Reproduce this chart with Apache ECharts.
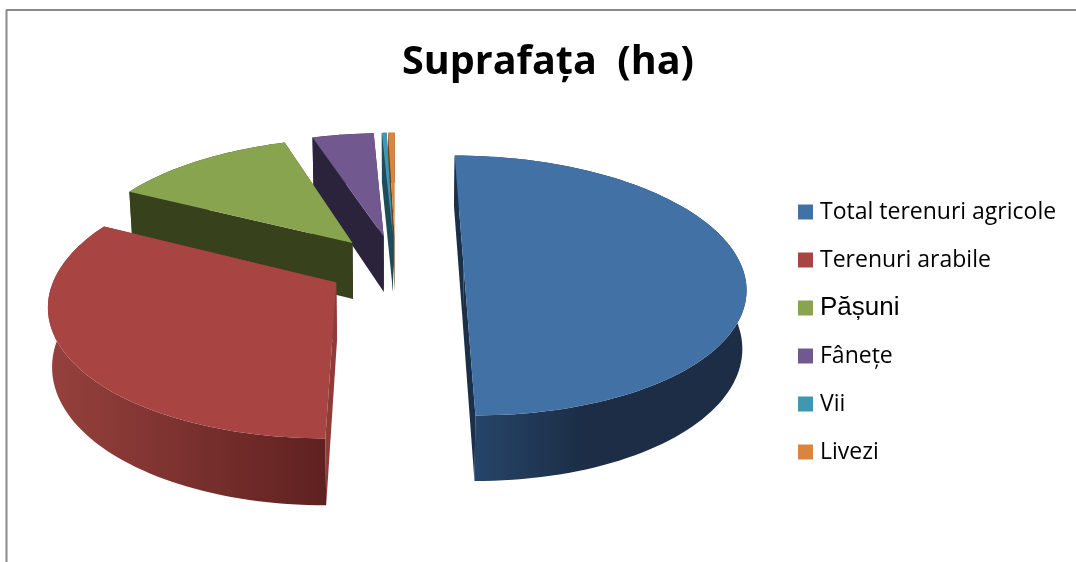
<!DOCTYPE html>
<html>
<head>
<meta charset="utf-8">
<title>Suprafața (ha)</title>
<script src="https://cdn.jsdelivr.net/npm/echarts@6/dist/echarts.min.js"></script>
<style>
  html, body { margin: 0; padding: 0; background: #fff; }
  #chart { width: 1076px; height: 562px; }
</style>
</head>
<body>
<div id="chart"></div>
<script>
// values (ha)
const categories = ['Total terenuri agricole', 'Terenuri arabile', 'Pășuni', 'Fânețe', 'Vii', 'Livezi']
const surface = [5000, 3250, 1250, 420, 33, 45]

const topColors = ['#4271a6', '#a84442', '#88a44f', '#71588f', '#3f97b0', '#db843d']
const faceColors = ['#1b2f49', '#8f3b38', '#37421d', '#2b233c', '#1d4d5a', '#6e4118']
// rim shading, left to right
const rimStops = [
  [['#27496f', 0], ['#1c2d45', 0.45], ['#1c2d45', 1]],
  [['#96413d', 0], ['#5f2120', 1]],
  [['#37421d', 0], ['#37421d', 1]],
  [['#2b233c', 0], ['#2b233c', 1]],
  [['#1d4d5a', 0], ['#1d4d5a', 1]],
  [['#6e4118', 0], ['#6e4118', 1]]
]

// perspective of the tilted disc
const cx = 395.5
const cy = 266
const radiusX = 278
const radiusY = 127
const wall = 58
const perspective = 0.15
const converge = 0.012
const explode = 0.245

const total = surface.reduce((a, b) => a + b, 0)
const startValues = surface.map((_, i) => surface.slice(0, i).reduce((a, b) => a + b, 0))

const project = (u, v, depth) => {
  const s = (1 - converge * depth) / (1 - perspective * v)
  return [cx + radiusX * u * s, cy + (radiusY * v + wall * depth) * s]
}

const renderSlice = (params, api) => {
  const i = params.seriesIndex
  const a0 = (api.value(1) / total) * Math.PI * 2
  const a1 = ((api.value(1) + api.value(0)) / total) * Math.PI * 2
  const mid = (a0 + a1) / 2
  const ou = Math.sin(mid) * explode
  const ov = -Math.cos(mid) * explode

  const steps = Math.max(2, Math.ceil((a1 - a0) / 0.03))
  const arcTop = []
  const arcBottom = []
  for (let k = 0; k <= steps; k++) {
    const a = a0 + ((a1 - a0) * k) / steps
    arcTop.push(project(ou + Math.sin(a), ov - Math.cos(a), 0))
    arcBottom.push(project(ou + Math.sin(a), ov - Math.cos(a), 1))
  }
  const apexTop = project(ou, ov, 0)
  const apexBottom = project(ou, ov, 1)

  const xs = arcTop.map(p => p[0])
  const rimFill = new echarts.graphic.LinearGradient(
    Math.min(...xs), 0, Math.max(...xs), 0,
    rimStops[i].map(s => ({ color: s[0], offset: s[1] })),
    true
  )
  const n = arcTop.length - 1
  const poly = (points, fill) => ({ type: 'polygon', shape: { points }, style: { fill } })
  return {
    type: 'group',
    children: [
      poly(arcTop.concat(arcBottom.slice().reverse()), rimFill),
      poly([apexTop, arcTop[0], arcBottom[0], apexBottom], faceColors[i]),
      poly([apexTop, arcTop[n], arcBottom[n], apexBottom], faceColors[i]),
      poly([apexTop].concat(arcTop), topColors[i])
    ]
  }
}

const chart = echarts.init(document.getElementById('chart'))

chart.setOption({
  animation: false,
  title: {
    text: 'Suprafața  (ha)',
    left: 543,
    top: 38,
    textAlign: 'center',
    textStyle: { color: '#000', fontFamily: 'Open Sans', fontSize: 39.5, fontWeight: 'bold' }
  },
  legend: {
    orient: 'vertical',
    left: 793,
    top: 194,
    icon: 'rect',
    itemWidth: 15,
    itemHeight: 15,
    itemGap: 22,
    selectedMode: false,
    textStyle: { color: '#000', fontFamily: 'Open Sans', fontSize: 23, lineHeight: 26, padding: [0, 0, 0, 2] },
    data: categories.map(name =>
      name === categories[2]
        ? { name, textStyle: { fontFamily: 'Liberation Sans', fontSize: 26, lineHeight: 26, padding: [0, 0, 0, 2] } }
        : { name }
    )
  },
  graphic: [
    { type: 'line', shape: { x1: 6, y1: 10, x2: 1076, y2: 10 }, style: { stroke: '#8a8a8a', lineWidth: 2 } },
    { type: 'line', shape: { x1: 6.5, y1: 10, x2: 6.5, y2: 562 }, style: { stroke: '#8a8a8a', lineWidth: 2 } }
  ],
  // back slices first so the nearer ones cover them
  series: categories.map((name, i) => ({
    type: 'custom',
    name,
    coordinateSystem: 'none',
    silent: true,
    z: categories.length - i + 2,
    itemStyle: { color: topColors[i] },
    renderItem: renderSlice,
    data: [[surface[i], startValues[i]]]
  }))
})
</script>
</body>
</html>
